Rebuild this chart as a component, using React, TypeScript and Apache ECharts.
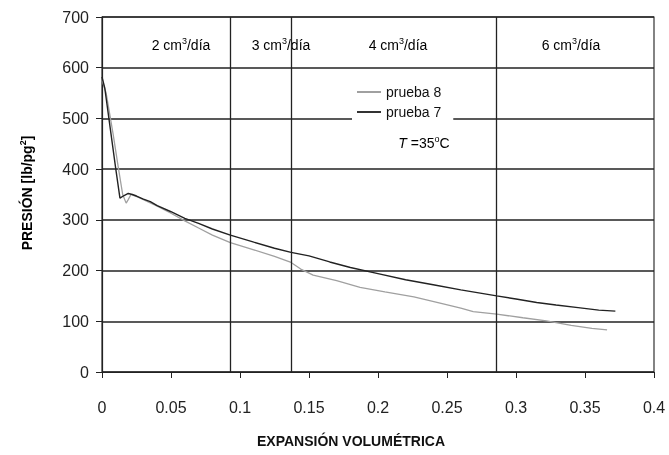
import React, { useEffect, useRef } from "react";
import * as echarts from "echarts";

const xTicks = ["0", "0.05", "0.1", "0.15", "0.2", "0.25", "0.3", "0.35", "0.4"];
const yTicks = [0, 100, 200, 300, 400, 500, 600, 700];
const rateBoundaries = [0.093, 0.137, 0.286];
const rateLabels = ["2", "3", "4", "6"];

const prueba7: [number, number][] = [
  [0, 582], [0.002, 560], [0.006, 480], [0.01, 400], [0.013, 343], [0.016, 348],
  [0.019, 352], [0.022, 350], [0.025, 347], [0.03, 341], [0.035, 336], [0.04, 328],
  [0.05, 316], [0.06, 303], [0.07, 293], [0.08, 282], [0.093, 270], [0.11, 256],
  [0.125, 244], [0.137, 236], [0.15, 229], [0.165, 217], [0.18, 206], [0.2, 194],
  [0.22, 182], [0.24, 172], [0.26, 162], [0.286, 150], [0.3, 144], [0.315, 137],
  [0.329, 132], [0.345, 127], [0.36, 122], [0.372, 120],
];

const prueba8: [number, number][] = [
  [0, 575], [0.003, 550], [0.008, 470], [0.012, 400], [0.015, 350], [0.0175, 333],
  [0.019, 340], [0.021, 350], [0.025, 346], [0.03, 340], [0.04, 327], [0.05, 313],
  [0.06, 298], [0.07, 284], [0.08, 270], [0.093, 255], [0.11, 241], [0.125, 228],
  [0.137, 216], [0.144, 203], [0.153, 191], [0.17, 180], [0.187, 167], [0.205, 158],
  [0.226, 148], [0.245, 136], [0.26, 126], [0.269, 119], [0.286, 114], [0.305, 107],
  [0.322, 101], [0.34, 92], [0.355, 86], [0.366, 83],
];

const FONT = "'Liberation Sans', Arial, sans-serif";

export default function App() {
  const ref = useRef<HTMLDivElement>(null);
  useEffect(() => {
    if (!ref.current) return;
    const chart = echarts.init(ref.current, undefined, { renderer: "svg" });
    const supRich = {
      b: { fontSize: 14, fontFamily: FONT, color: "#111", lineHeight: 18 },
      s: { fontSize: 9, fontFamily: FONT, color: "#111", verticalAlign: "top", lineHeight: 18 },
    };
    const rateX = [181, 281, 398, 571];
    chart.setOption({
      animation: false,
      grid: { left: 102, right: 15, top: 17, bottom: 83, show: true, borderColor: "#333", borderWidth: 1.2 },
      xAxis: {
        type: "value", min: 0, max: 0.4, interval: 0.05,
        axisLine: { show: true, lineStyle: { color: "#222", width: 1.2 } },
        axisTick: { show: true, length: 6, lineStyle: { color: "#222" } },
        axisLabel: {
          margin: 27, fontSize: 16, fontFamily: FONT, color: "#222", showMaxLabel: true,
          formatter: (v: number) => xTicks[Math.round(v / 0.05)] ?? "",
        },
        splitLine: { show: false },
      },
      yAxis: {
        type: "value", min: 0, max: 700, interval: 100,
        axisLine: { show: true, lineStyle: { color: "#222", width: 1.2 } },
        axisTick: { show: true, length: 6, lineStyle: { color: "#222" } },
        axisLabel: {
          margin: 13, fontSize: 16, fontFamily: FONT, color: "#222",
          formatter: (v: number) => (yTicks.includes(v) ? String(v) : ""),
        },
        splitLine: { show: true, lineStyle: { color: "#222", width: 1.5 } },
      },
      legend: {
        orient: "vertical", left: 352, top: 82, itemGap: 6, itemWidth: 24, itemHeight: 2,
        icon: "rect",
        backgroundColor: "#fff", padding: [3, 12, 3, 5],
        textStyle: { fontSize: 14, fontFamily: FONT, color: "#111" },
        data: ["prueba 8", "prueba 7"],
      },
      series: [
        {
          name: "prueba 8", type: "line", data: prueba8, symbol: "none",
          lineStyle: { color: "#a0a0a0", width: 1.3 }, itemStyle: { color: "#a0a0a0" }, z: 3,
        },
        {
          name: "prueba 7", type: "line", data: prueba7, symbol: "none",
          lineStyle: { color: "#222", width: 1.4 }, itemStyle: { color: "#333" }, z: 4,
          markLine: {
            silent: true, symbol: ["none", "none"], label: { show: false }, precision: 4,
            lineStyle: { color: "#222", type: "solid", width: 1.3 },
            data: rateBoundaries.map((x) => ({ xAxis: x })),
          },
        },
      ],
      graphic: [
        ...rateLabels.map((r, i) => ({
          type: "text", x: rateX[i], y: 45,
          style: {
            text: `{b|${r} cm}{s|3}{b|/día}`, rich: supRich,
            align: "center", verticalAlign: "middle",
          },
        })),
        {
          type: "text", x: 424, y: 143,
          style: {
            text: "{i|T}{b| =35}{s|o}{b|C}",
            rich: {
              i: { fontSize: 14, fontFamily: FONT, fontStyle: "italic", color: "#111", lineHeight: 18 },
              ...supRich,
            },
            align: "center", verticalAlign: "middle",
          },
        },
        {
          type: "text", x: 351, y: 441,
          style: {
            text: "EXPANSIÓN VOLUMÉTRICA", fontSize: 14, fontWeight: "bold", fontFamily: FONT,
            fill: "#111", align: "center", verticalAlign: "middle",
          },
        },
        {
          type: "text", x: 27, y: 193, rotation: Math.PI / 2,
          style: {
            text: "{b|PRESIÓN [lb/pg}{s|2}{b|]}",
            rich: {
              b: { fontSize: 14, fontWeight: "bold", fontFamily: FONT, color: "#111", lineHeight: 18 },
              s: { fontSize: 9, fontWeight: "bold", fontFamily: FONT, color: "#111", verticalAlign: "top", lineHeight: 18 },
            },
            align: "center", verticalAlign: "middle",
          },
        },
      ],
    });
    return () => chart.dispose();
  }, []);
  return <div ref={ref} style={{ position: "fixed", left: 0, top: 0, width: 669, height: 455 }} />;
}
